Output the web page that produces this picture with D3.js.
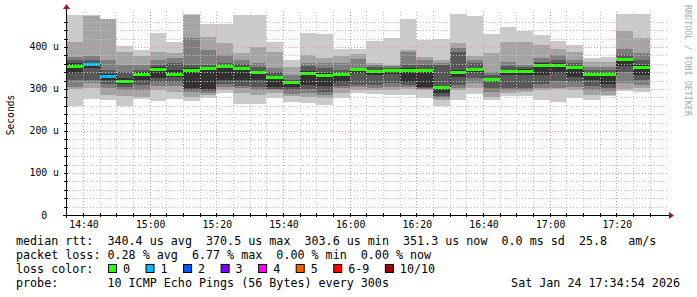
<!DOCTYPE html>
<html>
<head>
<meta charset="utf-8">
<style>
html, body { margin: 0; padding: 0; background: #fff; }
svg { display: block; }
text { font-family: "DejaVu Sans Mono", monospace; white-space: pre; }
</style>
<script src="https://cdn.jsdelivr.net/npm/d3@7/dist/d3.min.js"></script>
</head>
<body>
<script>
// 5 minute rrd steps, start time of each column
var colStart = ["14:35","14:40","14:45","14:50","14:55","15:00","15:05","15:10","15:15","15:20",
  "15:25","15:30","15:35","15:40","15:45","15:50","15:55","16:00","16:05","16:10",
  "16:15","16:20","16:25","16:30","16:35","16:40","16:45","16:50","16:55","17:00",
  "17:05","17:10","17:15","17:20","17:25"];

// median rtt per column (us)
var median = [355,359,331,319,336,348,336,345,350,355,
  350,340,329,317,338,333,336,348,343,345,
  345,345,303.6,340,348,324,343,343,357,357,
  352,336,336,370.5,351.3];

// lost pings out of 10
var lossCount = [0,1,1,0,0,0,0,0,0,0, 0,0,0,0,0,0,0,0,0,0, 0,0,0,0,0,0,0,0,0,0, 0,0,0,0,0];

// the 10 sorted ping rtts per column (us)
var pings = [
  [260,300,305,321,338,362,369,376,412,476],
  [276,302,314,321,350,362,369,379,474,476],
  [274,286,302,312,321,336,345,369,466,467],
  [260,283,298,305,312,326,340,357,388,402],
  [276,281,298,310,321,340,345,357,379,393],
  [271,298,307,317,326,352,357,369,388,433],
  [276,293,307,317,329,345,362,374,386,412],
  [271,281,293,298,302,350,357,421,476,479],
  [279,286,290,295,300,352,357,393,424,455],
  [290,298,305,312,321,357,362,381,410,455],
  [264,290,302,307,321,352,360,369,386,476],
  [264,286,298,305,321,343,352,362,400,476],
  [279,290,298,300,305,331,340,350,388,412],
  [269,283,288,298,305,319,321,333,352,369],
  [267,281,290,300,310,343,355,362,381,433],
  [262,279,286,293,307,338,350,362,374,431],
  [279,290,302,307,317,338,345,362,379,395],
  [290,298,305,310,338,345,350,371,383,395],
  [288,298,302,310,333,345,352,357,362,414],
  [286,298,305,314,336,345,350,355,357,421],
  [286,300,305,310,317,350,357,388,393,467],
  [279,298,300,302,305,348,357,369,376,417],
  [260,274,279,283,290,307,357,362,369,419],
  [274,298,302,310,329,345,388,398,410,479],
  [288,302,314,326,340,350,362,369,379,474],
  [274,281,293,302,319,326,333,340,386,431],
  [283,290,298,302,333,345,355,364,412,448],
  [283,293,298,302,333,348,352,357,412,438],
  [274,298,302,312,333,362,364,374,405,429],
  [269,300,302,319,338,362,369,381,395,414],
  [279,298,305,317,329,355,362,369,388,405],
  [274,286,298,307,321,338,345,352,364,374],
  [283,286,295,302,312,338,345,352,364,376],
  [295,300,314,340,355,374,381,395,438,479],
  [293,302,310,321,333,357,369,386,421,479]
];

var xDomain = ["14:34:54", "17:34:54"];
var xTickLabels = ["14:40","15:00","15:20","15:40","16:00","16:20","16:40","17:00","17:20"];
var yTicks = [0, 100, 200, 300, 400];
var yMax = 476.19;

var lossLevels = ["0","1","2","3","4","5","6-9","10/10"];
var lossColors = ["#26ff00","#00b8ff","#0059ff","#7e00ff","#ff00ea","#ff5e00","#ff0000","#a10000"];
var smokeGrays = ["#cacaca","#a4a4a4","#7e7e7e","#585858","#323232"];

var legendLines = [
  "median rtt:  340.4 us avg  370.5 us max  303.6 us min  351.3 us now  0.0 ms sd  25.8   am/s",
  "packet loss: 0.28 % avg  6.77 % max  0.00 % min  0.00 % now",
  "loss color:",
  "probe:       10 ICMP Echo Pings (56 Bytes) every 300s"
];
var stamp = "Sat Jan 24 17:34:54 2026";

var W = 697, H = 297;
var pL = 66, pR = 666, pT = 15, pB = 215;

var parseT = d3.timeParse("%H:%M:%S");
var parseM = d3.timeParse("%H:%M");

var x = d3.scaleTime().domain(xDomain.map(parseT)).range([pL, pR]);
var y = d3.scaleLinear().domain([0, yMax]).range([pB, pT]);

var svg = d3.select("body").append("svg")
  .attr("width", W).attr("height", H);

svg.append("defs").append("clipPath").attr("id", "plot")
  .append("rect").attr("x", pL).attr("y", pT - 1)
  .attr("width", pR - pL).attr("height", pB - pT + 1);

var plot = svg.append("g").attr("clip-path", "url(#plot)");

var lossIndex = function(n) {
  if (n <= 5) return n;
  if (n < 10) return 6;
  return 7;
};

var cols = colStart.map(function(s, i) {
  var t0 = parseM(s);
  var t1 = d3.timeMinute.offset(t0, 5);
  return {
    x0: Math.round(x(t0)),
    x1: Math.round(x(t1)),
    p: pings[i],
    med: median[i],
    color: lossColors[lossIndex(lossCount[i])]
  };
});

// smoke: outer pair first, inner pair last
smokeGrays.forEach(function(g, k) {
  plot.append("g").selectAll("rect")
    .data(cols).enter().append("rect")
    .attr("x", function(d) { return d.x0; })
    .attr("width", function(d) { return d.x1 - d.x0; })
    .attr("y", function(d) { return Math.round(y(d.p[9 - k])); })
    .attr("height", function(d) { return Math.round(y(d.p[k])) - Math.round(y(d.p[9 - k])); })
    .attr("fill", g)
    .attr("shape-rendering", "crispEdges");
});

// median step line
var stepPts = cols.map(function(d) { return [d.x0, Math.round(y(d.med)) + 0.5]; });
stepPts.push([cols[cols.length - 1].x1, Math.round(y(median[median.length - 1])) + 0.5]);
plot.append("path")
  .attr("d", d3.line().curve(d3.curveStepAfter)(stepPts))
  .attr("fill", "none").attr("stroke", "#202020").attr("stroke-width", 1)
  .attr("shape-rendering", "crispEdges");

// loss coloured median bars
plot.append("g").selectAll("rect")
  .data(cols).enter().append("rect")
  .attr("x", function(d) { return d.x0; })
  .attr("width", function(d) { return d.x1 - d.x0; })
  .attr("y", function(d) { return Math.round(y(d.med)) - 1; })
  .attr("height", 3)
  .attr("fill", function(d) { return d.color; })
  .attr("shape-rendering", "crispEdges");

// grid on top
var grid = svg.append("g").attr("shape-rendering", "crispEdges");
var minorY = d3.range(20, yMax, 20).filter(function(v) { return v % 100 !== 0; });
grid.selectAll(".hy").data(minorY).enter().append("line")
  .attr("x1", pL).attr("x2", pR + 2)
  .attr("y1", function(v) { return Math.round(y(v)) + 0.5; })
  .attr("y2", function(v) { return Math.round(y(v)) + 0.5; })
  .attr("stroke", "#c8c8c8").attr("stroke-dasharray", "1,2");

var minorX = d3.timeMinute.every(5).range(x.domain()[0], x.domain()[1]);
grid.selectAll(".vx").data(minorX).enter().append("line")
  .attr("x1", function(t) { return Math.round(x(t)) + 0.5; })
  .attr("x2", function(t) { return Math.round(x(t)) + 0.5; })
  .attr("y1", pT - 3).attr("y2", pB)
  .attr("stroke", "#c8c8c8").attr("stroke-dasharray", "1,2");

grid.selectAll(".my").data(yTicks.slice(1)).enter().append("line")
  .attr("x1", pL).attr("x2", pR + 2)
  .attr("y1", function(v) { return Math.round(y(v)) + 0.5; })
  .attr("y2", function(v) { return Math.round(y(v)) + 0.5; })
  .attr("stroke", "#e39a9a").attr("stroke-dasharray", "1,2");

grid.selectAll(".mx").data(xTickLabels).enter().append("line")
  .attr("x1", function(s) { return Math.round(x(parseM(s))) + 0.5; })
  .attr("x2", function(s) { return Math.round(x(parseM(s))) + 0.5; })
  .attr("y1", pT - 3).attr("y2", pB)
  .attr("stroke", "#e39a9a").attr("stroke-dasharray", "1,2");

// axes
var ax = svg.append("g").attr("shape-rendering", "crispEdges");
ax.append("line").attr("x1", pL - 3).attr("x2", pR + 4)
  .attr("y1", pB + 0.5).attr("y2", pB + 0.5).attr("stroke", "#000");
ax.append("line").attr("x1", pL + 0.5).attr("x2", pL + 0.5)
  .attr("y1", pB + 3).attr("y2", pT - 6).attr("stroke", "#000");
ax.selectAll(".ty").data(d3.range(0, yMax, 20)).enter().append("line")
  .attr("x1", pL - 2).attr("x2", pL + 2)
  .attr("y1", function(v) { return Math.round(y(v)) + 0.5; })
  .attr("y2", function(v) { return Math.round(y(v)) + 0.5; })
  .attr("stroke", "#000");
ax.selectAll(".tx").data(minorX).enter().append("line")
  .attr("x1", function(t) { return Math.round(x(t)) + 0.5; })
  .attr("x2", function(t) { return Math.round(x(t)) + 0.5; })
  .attr("y1", pB - 2).attr("y2", pB + 2)
  .attr("stroke", "#000");

svg.append("path")
  .attr("d", "M" + (pR + 3) + "," + (pB - 3) + "L" + (pR + 8) + "," + (pB + 0.5) + "L" + (pR + 3) + "," + (pB + 4) + "Z")
  .attr("fill", "#9b1c1c");
svg.append("path")
  .attr("d", "M" + (pL - 3) + "," + (pT - 6) + "L" + (pL + 0.5) + "," + (pT - 11) + "L" + (pL + 4) + "," + (pT - 6) + "Z")
  .attr("fill", "#9b1c1c");

// axis labels
svg.selectAll(".yl").data(yTicks).enter().append("text")
  .attr("x", 59).attr("y", function(v) { return y(v) + 3.5; })
  .attr("text-anchor", "end").attr("font-size", "9.8px").attr("fill", "#000")
  .text(function(v) { return v === 0 ? "0  " : v + " u"; });

svg.selectAll(".xl").data(xTickLabels).enter().append("text")
  .attr("x", function(s) { return x(parseM(s)) + 1; })
  .attr("y", 228)
  .attr("text-anchor", "middle").attr("font-size", "9.8px").attr("fill", "#000")
  .text(function(s) { return s; });

svg.append("text")
  .attr("transform", "translate(14,115) rotate(-90)")
  .attr("text-anchor", "middle").attr("font-size", "9.6px").attr("fill", "#000")
  .text("Seconds");

svg.append("text")
  .attr("transform", "translate(685,5) rotate(90)")
  .attr("text-anchor", "start").attr("font-size", "8.4px").attr("fill", "#aaaaaa")
  .text("RRDTOOL / TOBI OETIKER");

// legend
var legendY = [245, 259, 273, 287];
svg.selectAll(".lg").data(legendLines).enter().append("text")
  .attr("x", 16).attr("y", function(d, i) { return legendY[i]; })
  .attr("font-size", "11.7px").attr("fill", "#000")
  .text(function(d) { return d; });

svg.append("text")
  .attr("x", 680).attr("y", legendY[3]).attr("text-anchor", "end")
  .attr("font-size", "11.7px").attr("fill", "#000")
  .text(stamp);

var cw = 7.04;
var cursor = 108;
lossLevels.forEach(function(lbl, i) {
  svg.append("rect")
    .attr("x", cursor + 0.5).attr("y", 264.5).attr("width", 8).attr("height", 8)
    .attr("fill", lossColors[i]).attr("stroke", "#000").attr("stroke-width", 1);
  svg.append("text")
    .attr("x", cursor + 15).attr("y", legendY[2])
    .attr("font-size", "11.7px").attr("fill", "#000")
    .text(lbl);
  cursor = cursor + 15 + lbl.length * cw + 15.5;
});
</script>
</body>
</html>
